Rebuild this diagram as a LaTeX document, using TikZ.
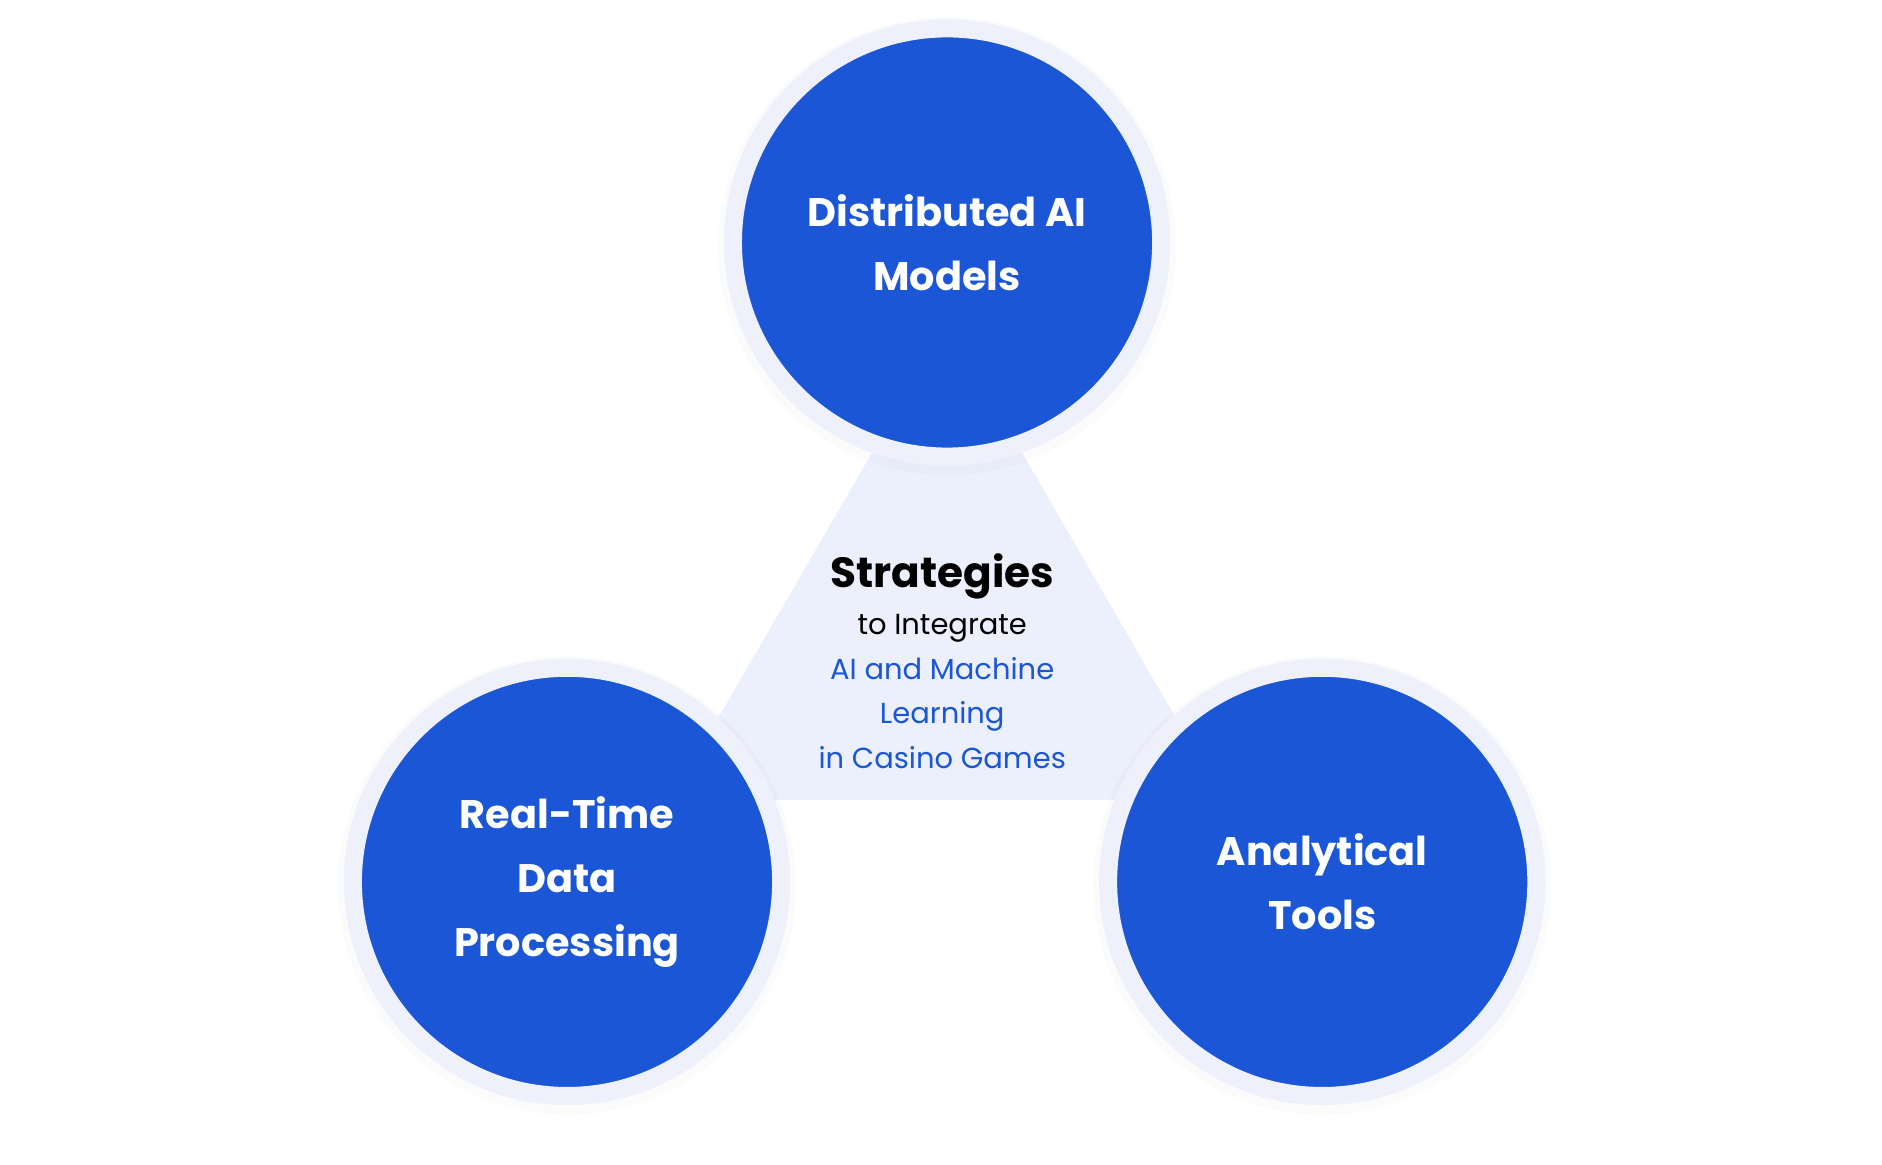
\documentclass[tikz,border=0pt]{standalone}
\usepackage{fontspec}
\setmainfont{Poppins}
\usetikzlibrary{positioning}
\definecolor{cblue}{HTML}{1A56D6}
\definecolor{cring}{HTML}{EEF1FC}
\definecolor{ctri}{HTML}{ECEFFC}
\tikzset{
  topic/.style={circle,fill=cblue,draw=cring,line width=15pt,minimum size=355pt,
    text=white,align=center,font=\fontsize{33}{53}\selectfont\bfseries},
}
\begin{document}
\begin{tikzpicture}[x=1pt,y=-1pt]
      \useasboundingbox (0,0) rectangle (1560,965);
      
      %centre triangle
      \fill[ctri] (785,268) -- (556,663) -- (1014,663) -- cycle;
      
      \foreach \x/\y in {785/201,470/731,1096/731}  {
      	\fill[black,opacity=0.015] (\x,\y+3) circle (190);
      }
      \node[topic] (models) at (785,201) {Distributed AI\\Models};
      \node[topic] (realtime) at (470,731) {Real-Time\\Data\\Processing};
      \node[topic] (tools) at (1096,731) {Analytical\\Tools};
      
      \node[align=center,font=\fontsize{24}{37}\selectfont] (title) at (781,548) {%
      	{\fontsize{35}{37}\selectfont\bfseries Strategies}\\[2pt]
      	to Integrate\\
      	\textcolor{cblue}{AI and Machine}\\
      	\textcolor{cblue}{Learning}\\
      	\textcolor{cblue}{in Casino Games}};
      
\end{tikzpicture}
\end{document}
